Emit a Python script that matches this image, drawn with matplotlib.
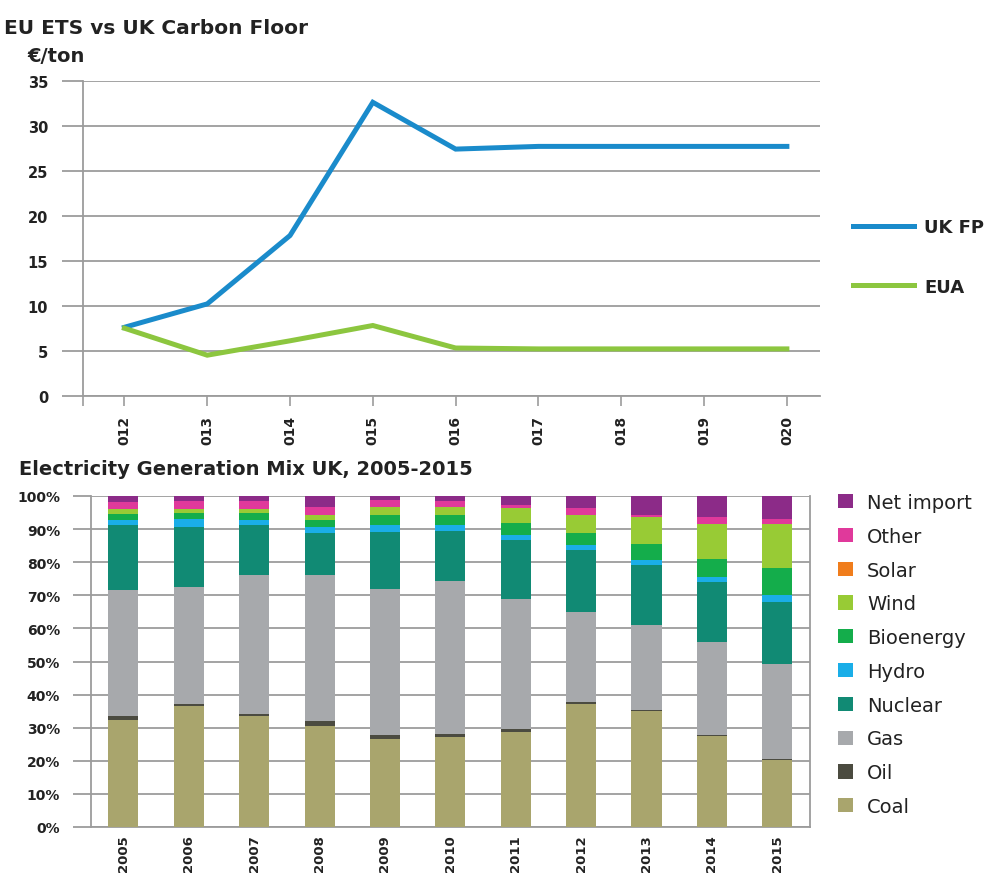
import matplotlib
matplotlib.use("Agg")
import matplotlib.pyplot as plt
import numpy as np

# ---------------- data ----------------
price_labels = ["012", "013", "014", "015", "016", "017", "018", "019", "020"]
uk_fp = [7.6, 10.2, 17.8, 32.6, 27.4, 27.7, 27.7, 27.7, 27.7]
eua = [7.5, 4.5, 6.1, 7.8, 5.3, 5.2, 5.2, 5.2, 5.2]
price_yticks = [0, 5, 10, 15, 20, 25, 30, 35]

years = ["2005", "2006", "2007", "2008", "2009", "2010",
         "2011", "2012", "2013", "2014", "2015"]
coal = [32.2, 36.5, 33.4, 30.4, 26.6, 27.2, 28.6, 37.3, 34.9, 27.4, 20.3]
oil = [1.2, 0.8, 0.6, 1.5, 1.1, 1.0, 1.0, 0.5, 0.3, 0.4, 0.3]
gas = [38.1, 35.2, 42.2, 44.1, 44.3, 46.0, 39.2, 27.2, 25.8, 28.2, 28.5]
nuclear = [19.6, 18.2, 15.0, 12.7, 17.2, 15.2, 17.9, 18.7, 18.1, 18.1, 18.9]
hydro = [1.6, 2.3, 1.5, 2.0, 2.0, 1.8, 1.5, 1.5, 1.5, 1.5, 2.0]
bioenergy = [2.0, 2.0, 2.3, 2.0, 3.2, 3.2, 3.5, 3.5, 5.0, 5.5, 8.1]
wind = [1.3, 1.2, 1.0, 1.7, 2.3, 2.3, 4.7, 5.7, 8.1, 10.3, 13.3]
solar = [0, 0, 0, 0, 0, 0, 0, 0, 0, 0, 0]
other = [2.2, 2.2, 2.4, 2.3, 2.0, 1.7, 0.8, 2.0, 0.7, 2.3, 1.8]
net_import = [1.8, 1.6, 1.6, 3.3, 1.3, 1.6, 2.8, 3.6, 5.6, 6.3, 6.8]

series_names = ["Coal", "Oil", "Gas", "Nuclear", "Hydro", "Bioenergy",
                "Wind", "Solar", "Other", "Net import"]
series_values = [coal, oil, gas, nuclear, hydro, bioenergy, wind, solar,
                 other, net_import]
series_colors = ["#a9a56d", "#4b4b40", "#a7a9ac", "#118a74", "#1aaee8",
                 "#14ad4b", "#98cb35", "#f07d1c", "#e0399b", "#8c2b88"]

pct_ticks = [0, 10, 20, 30, 40, 50, 60, 70, 80, 90, 100]

# ---------------- figure ----------------
W, H = 987, 878
fig = plt.figure(figsize=(W / 100, H / 100), dpi=100)
plt.rcParams["font.family"] = ["DejaVu Sans"]
TXT = "#222222"
GRID = "#9c9c9c"

def fx(px):
    return px / W

def fy(py):
    return 1 - py / H

# ---------- top chart ----------
ax1 = fig.add_axes([fx(83), fy(396.7), fx(820) - fx(83), fy(81.7) - fy(396.7)])
x = np.arange(len(price_labels))
ax1.plot(x, uk_fp, color="#1a8bcb", lw=3.6, solid_joinstyle="miter",
         label="UK FP", zorder=3)
ax1.plot(x, eua, color="#8cc63f", lw=3.6, solid_joinstyle="miter",
         label="EUA", zorder=3)
ax1.set_xlim(-0.5, 8.4)
ax1.set_ylim(0, 35)
ax1.set_yticks(price_yticks)
ax1.set_yticklabels([str(v) for v in price_yticks], fontsize=10.5,
                    color=TXT, fontweight="bold")
ax1.yaxis.grid(True, color=GRID, lw=1.3)
ax1.set_axisbelow(True)
ax1.tick_params(axis="y", length=15, color=GRID, width=1.3, pad=10)
ax1.set_xticks([-0.5] + list(x))
ax1.set_xticklabels([""] + price_labels, rotation=90, fontsize=10,
                    color=TXT, fontweight="bold")
ax1.tick_params(axis="x", length=7, color=GRID, width=1.2, pad=7)
for s in ["top", "right"]:
    ax1.spines[s].set_visible(False)
for s in ["left", "bottom"]:
    ax1.spines[s].set_color(GRID)
    ax1.spines[s].set_linewidth(1.3)
ax1.spines["bottom"].set_bounds(-0.5, 8.4)
ax1.legend(loc="upper left", bbox_to_anchor=(fx(853), fy(219)),
           bbox_transform=fig.transFigure, frameon=False,
           handlelength=3.4, handletextpad=0.55, labelspacing=2.3,
           borderpad=0, borderaxespad=0,
           prop={"size": 13, "weight": "bold"}, labelcolor=TXT)

fig.text(fx(4), fy(28), "EU ETS vs UK Carbon Floor", fontsize=14.5,
         fontweight="bold", color=TXT, va="center", ha="left")
fig.text(fx(27), fy(57), "€/ton", fontsize=14, fontweight="bold",
         color=TXT, va="center", ha="left")

# ---------- bottom chart ----------
ax2 = fig.add_axes([fx(90.7), fy(828), fx(810) - fx(90.7), fy(497) - fy(828)])
xb = np.arange(len(years))
bottom = np.zeros(len(years))
handles = []
for name, vals, col in zip(series_names, series_values, series_colors):
    v = np.array(vals, dtype=float)
    b = ax2.bar(xb, v, bottom=bottom, width=0.46, color=col, label=name,
                zorder=3, linewidth=0)
    handles.append(b)
    bottom += v
ax2.set_xlim(-0.5, 10.5)
ax2.set_ylim(0, 100)
ax2.set_yticks(pct_ticks)
ax2.set_yticklabels([f"{v}%" for v in pct_ticks], fontsize=10, color=TXT,
                    fontweight="bold")
ax2.yaxis.grid(True, color=GRID, lw=1.3)
ax2.set_axisbelow(True)
ax2.tick_params(axis="y", length=13, color=GRID, width=1.3, pad=9)
ax2.set_xticks(xb)
ax2.set_xticklabels(years, rotation=90, fontsize=9.5, color=TXT,
                    fontweight="bold")
ax2.tick_params(axis="x", length=0, pad=5)
ax2.spines["top"].set_visible(False)
for s in ["left", "right", "bottom"]:
    ax2.spines[s].set_color(GRID)
    ax2.spines[s].set_linewidth(1.3)

ax2.legend(handles[::-1], series_names[::-1], loc="upper left",
           bbox_to_anchor=(fx(838), fy(494)), bbox_transform=fig.transFigure,
           frameon=False, handlelength=0.75, handleheight=0.75,
           handletextpad=0.75, labelspacing=0.76, borderpad=0,
           borderaxespad=0, prop={"size": 14}, labelcolor=TXT)

fig.text(fx(19), fy(470), "Electricity Generation Mix UK, 2005-2015",
         fontsize=14, fontweight="bold", color=TXT, va="center", ha="left")

fig.savefig("out.png", dpi=100)
